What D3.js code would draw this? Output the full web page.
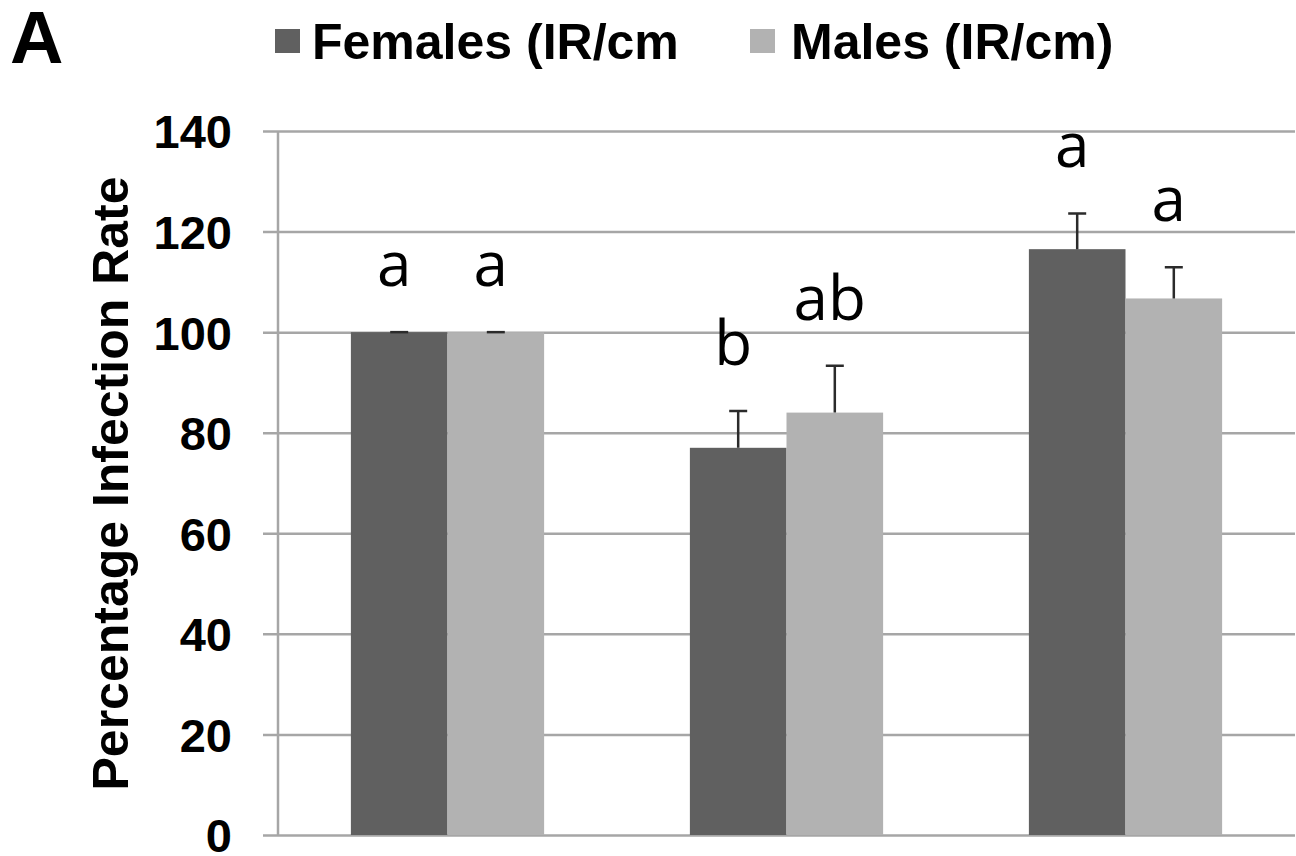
<!DOCTYPE html>
<html>
<head>
<meta charset="utf-8">
<script src="https://cdn.jsdelivr.net/npm/d3@7"></script>
<style>
  html, body { margin: 0; padding: 0; background: #fff; }
  svg { display: block; }
</style>
</head>
<body>
<svg id="chart" width="1296" height="856"></svg>
<script>
// Infection rate by sex across three groups (mean ± SE), with significance letters
const groups = ["Group 1", "Group 2", "Group 3"];
const seriesNames = ["Females (IR/cm", "Males (IR/cm)"];
const femaleValues = [100, 77, 116.5];
const maleValues = [100, 84, 106.7];
const femaleErrors = [0, 7.3, 7.1];
const maleErrors = [0, 9.3, 6.2];
const femaleLetters = ["a", "b", "a"];
const maleLetters = ["a", "ab", "a"];
const yTicks = [0, 20, 40, 60, 80, 100, 120, 140];

const colors = ["#606060", "#b2b2b2"];
const gridColor = "#a6a6a6";

const svg = d3.select("#chart");
const margin = { left: 278, right: 1, top: 131, bottom: 21 };
const W = 1296, H = 856;

const y = d3.scaleLinear().domain([0, 140]).range([H - margin.bottom, margin.top]);
const x0 = d3.scaleBand().domain(groups).range([margin.left, W - margin.right])
  .paddingInner(0.43).paddingOuter(0.215);
const x1 = d3.scaleBand().domain(seriesNames).range([0, x0.bandwidth()]);

const rows = groups.map((g, i) => ({
  group: g,
  bars: [
    { series: seriesNames[0], value: femaleValues[i], err: femaleErrors[i], letter: femaleLetters[i], color: colors[0] },
    { series: seriesNames[1], value: maleValues[i], err: maleErrors[i], letter: maleLetters[i], color: colors[1] }
  ]
}));

// Horizontal gridlines with short ticks left of the axis
const yAxis = d3.axisLeft(y).tickValues(yTicks)
  .tickSize(-(W - margin.right - margin.left)).tickSizeOuter(0).tickPadding(31 + 15)
  .tickFormat(d3.format("d"));
const gAxis = svg.append("g").attr("transform", `translate(${margin.left},0)`).call(yAxis);
gAxis.select(".domain").remove();
gAxis.selectAll(".tick line").attr("stroke", gridColor).attr("stroke-width", 2.5)
  .attr("x1", -15);
gAxis.selectAll(".tick text")
  .attr("fill", "#000")
  .attr("font-family", "'Liberation Sans', Arial, sans-serif")
  .attr("font-weight", "bold")
  .attr("font-size", 47)
  .attr("dy", "0.36em");

// Vertical axis line
svg.append("line")
  .attr("x1", margin.left).attr("x2", margin.left)
  .attr("y1", y(140)).attr("y2", y(0))
  .attr("stroke", gridColor).attr("stroke-width", 2.5);

// Bars
const gGroups = svg.append("g").selectAll("g").data(rows).join("g")
  .attr("transform", d => `translate(${x0(d.group)},0)`);

gGroups.selectAll("rect").data(d => d.bars).join("rect")
  .attr("x", d => x1(d.series))
  .attr("width", x1.bandwidth())
  .attr("y", d => y(d.value))
  .attr("height", d => y(0) - y(d.value))
  .attr("fill", d => d.color);

// Error bars (upper only)
const capHalf = 9;
gGroups.selectAll("path.err").data(d => d.bars).join("path")
  .attr("class", "err")
  .attr("fill", "none")
  .attr("stroke", "#2b2b2b")
  .attr("stroke-width", 2.5)
  .attr("d", d => {
    const cx = x1(d.series) + x1.bandwidth() / 2;
    const top = y(d.value + d.err), base = y(d.value);
    return `M${cx},${base}V${top}M${cx - capHalf},${top}H${cx + capHalf}`;
  });

// Significance letters
gGroups.selectAll("text.sig").data(d => d.bars).join("text")
  .attr("class", "sig")
  .attr("x", d => x1(d.series) + x1.bandwidth() / 2 - 5)
  .attr("y", d => y(d.value + d.err) - 46)
  .attr("text-anchor", "middle")
  .attr("font-family", "'Open Sans', 'Noto Sans', sans-serif")
  .attr("font-size", 62)
  .attr("fill", "#000")
  .text(d => d.letter);

// Y-axis title
svg.append("text")
  .attr("transform", `translate(128,${(177 + 790) / 2}) rotate(-90)`)
  .attr("text-anchor", "middle")
  .attr("font-family", "'Liberation Sans', Arial, sans-serif")
  .attr("font-weight", "bold")
  .attr("font-size", 50)
  .attr("fill", "#000")
  .text("Percentage Infection Rate");

// Panel letter
svg.append("text")
  .attr("x", 10).attr("y", 63)
  .attr("font-family", "'Liberation Sans', Arial, sans-serif")
  .attr("font-weight", "bold")
  .attr("font-size", 74)
  .attr("fill", "#000")
  .text("A");

// Legend
const legendX = [275, 750];
const legend = svg.append("g").selectAll("g").data(seriesNames).join("g")
  .attr("transform", (d, i) => `translate(${legendX[i]},0)`);
legend.append("rect")
  .attr("x", 0).attr("y", 29).attr("width", 25).attr("height", 24)
  .attr("fill", (d, i) => colors[i]);
legend.append("text")
  .attr("x", (d, i) => i === 0 ? 37 : 41).attr("y", 59)
  .attr("font-family", "'Liberation Sans', Arial, sans-serif")
  .attr("font-weight", "bold")
  .attr("font-size", 50)
  .attr("fill", "#000")
  .text(d => d);
</script>
</body>
</html>
